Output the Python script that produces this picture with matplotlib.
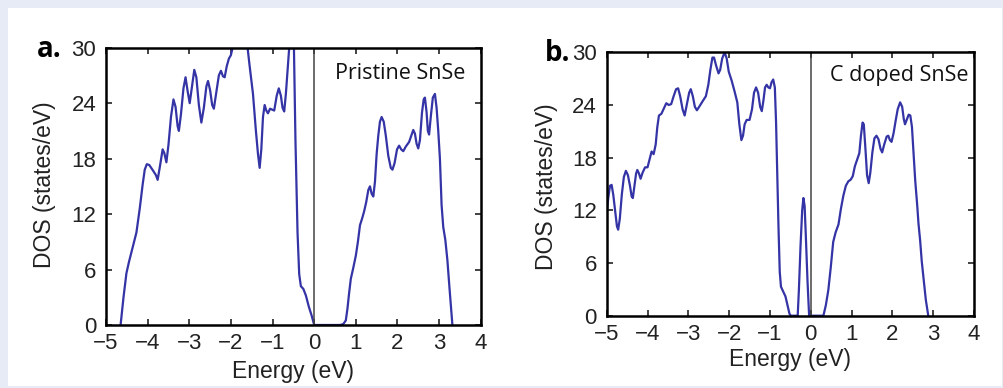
import matplotlib
matplotlib.use("Agg")
import matplotlib.pyplot as plt
from matplotlib.patches import Rectangle

# DOS of pristine SnSe (panel a)
energy_a = [-4.65, -4.58, -4.51, -4.45, -4.36, -4.27, -4.19, -4.12, -4.07, -4.02,
            -3.96, -3.87, -3.80, -3.76, -3.70, -3.64, -3.60, -3.55, -3.50, -3.44,
            -3.38, -3.33, -3.28, -3.25, -3.20, -3.14, -3.09, -3.04, -2.99, -2.94,
            -2.88, -2.83, -2.77, -2.71, -2.65, -2.59, -2.55, -2.50, -2.45, -2.41,
            -2.35, -2.29, -2.24, -2.19, -2.15, -2.10, -2.05, -2.00, -1.95, -1.85,
            -1.75, -1.65, -1.55, -1.47, -1.40, -1.35, -1.31, -1.27, -1.23, -1.19,
            -1.15, -1.11, -1.06, -1.01, -0.96, -0.90, -0.85, -0.80, -0.76, -0.72,
            -0.68, -0.64, -0.60, -0.55, -0.52, -0.49, -0.45, -0.40, -0.36, -0.32,
            -0.26, -0.20, -0.13, -0.06, 0.00,
            0.62, 0.70, 0.76, 0.80, 0.84, 0.88, 0.94, 1.00, 1.05, 1.10,
            1.15, 1.20, 1.25, 1.30, 1.34, 1.38, 1.42, 1.46, 1.50, 1.54,
            1.58, 1.62, 1.67, 1.72, 1.78, 1.84, 1.88, 1.93, 1.99, 2.04,
            2.09, 2.14, 2.20, 2.28, 2.34, 2.38, 2.42, 2.46, 2.50, 2.54,
            2.59, 2.63, 2.66, 2.70, 2.73, 2.76, 2.80, 2.85, 2.90, 2.94,
            2.98, 3.02, 3.06, 3.10, 3.15, 3.20, 3.25, 3.32]
dos_a = [0.0, 3.0, 5.6, 6.8, 8.4, 10.0, 12.6, 15.2, 16.8, 17.4,
         17.3, 16.7, 16.2, 15.7, 17.3, 19.0, 18.6, 17.6, 19.5, 22.5,
         24.4, 23.6, 21.5, 21.0, 22.8, 25.6, 26.8, 25.3, 24.0, 25.6,
         27.6, 26.8, 23.8, 21.9, 23.5, 25.8, 26.4, 25.4, 23.8, 23.4,
         25.2, 27.0, 27.5, 26.9, 26.8, 28.0, 28.8, 29.2, 30.2, 34.0,
         35.0, 32.0, 28.0, 25.0, 21.0, 18.5, 17.0, 19.0, 22.5, 23.8,
         23.2, 22.9, 23.4, 23.3, 23.2, 24.8, 25.6, 24.8, 23.5, 23.1,
         25.0, 27.5, 30.0, 35.0, 36.0, 31.0, 20.0, 10.0, 5.5, 4.2,
         3.9, 3.2, 2.0, 1.0, 0.0,
         0.0, 0.1, 0.5, 1.8, 3.5, 5.0, 6.2, 7.5, 9.0, 10.8,
         11.5, 12.3, 13.3, 14.6, 15.0, 14.2, 13.9, 15.5, 18.5, 20.5,
         22.0, 22.5, 22.0, 20.5, 18.3, 17.0, 16.8, 17.5, 19.0, 19.4,
         19.0, 18.8, 19.3, 19.8, 20.6, 21.1, 20.7, 19.6, 19.1, 20.0,
         23.0, 24.4, 24.6, 23.0, 21.0, 20.6, 22.5, 24.6, 25.0, 23.5,
         21.0, 18.0, 13.0, 10.6, 9.2, 7.0, 4.0, 0.0]

# DOS of C doped SnSe (panel b)
energy_b = [-5.00, -4.96, -4.92, -4.88, -4.84, -4.79, -4.75, -4.72, -4.68, -4.63,
            -4.58, -4.53, -4.48, -4.43, -4.39, -4.36, -4.32, -4.28, -4.25, -4.21,
            -4.17, -4.12, -4.06, -4.00, -3.95, -3.90, -3.85, -3.80, -3.76, -3.72,
            -3.66, -3.60, -3.54, -3.48, -3.42, -3.36, -3.30, -3.25, -3.20, -3.14,
            -3.09, -3.04, -2.98, -2.94, -2.89, -2.84, -2.79, -2.72, -2.64, -2.57,
            -2.51, -2.46, -2.41, -2.37, -2.32, -2.26, -2.22, -2.17, -2.11, -2.06,
            -2.01, -1.94, -1.87, -1.80, -1.75, -1.70, -1.66, -1.62, -1.57, -1.50,
            -1.44, -1.39, -1.34, -1.29, -1.24, -1.20, -1.16, -1.12, -1.08, -1.04,
            -1.00, -0.96, -0.92, -0.88, -0.85, -0.82, -0.79, -0.76, -0.73, -0.68,
            -0.62, -0.57, -0.52, -0.49, -0.32, -0.29, -0.25, -0.21, -0.18, -0.15,
            -0.12, -0.08, -0.04,
            0.31, 0.37, 0.43, 0.49, 0.55, 0.61, 0.68, 0.74, 0.80, 0.86,
            0.92, 0.98, 1.03, 1.08, 1.14, 1.19, 1.23, 1.27, 1.30, 1.34,
            1.38, 1.42, 1.46, 1.51, 1.56, 1.61, 1.66, 1.71, 1.75, 1.80,
            1.86, 1.90, 1.94, 1.98, 2.03, 2.08, 2.13, 2.19, 2.24, 2.28,
            2.31, 2.35, 2.40, 2.44, 2.48, 2.52, 2.56, 2.61, 2.64, 2.68,
            2.72, 2.76, 2.82, 2.88]
dos_b = [11.7, 13.5, 14.8, 14.9, 13.8, 11.8, 10.2, 9.8, 11.0, 13.8,
         15.8, 16.5, 16.0, 14.8, 13.6, 13.4, 14.8, 16.2, 16.6, 16.2,
         15.6, 16.3, 16.9, 16.9, 17.8, 18.7, 18.4, 19.5, 21.5, 22.8,
         23.0, 23.6, 24.2, 24.0, 24.1, 25.0, 25.8, 25.9, 25.0, 23.5,
         22.8, 24.0, 25.4, 25.8, 25.0, 23.8, 23.4, 23.9, 24.5, 25.0,
         26.3, 28.0, 29.4, 29.4, 28.5, 27.6, 28.0, 29.3, 30.0, 29.3,
         27.8, 26.8, 25.6, 24.3, 21.8, 20.0, 20.5, 21.8, 22.3, 22.3,
         23.5, 25.4, 26.0, 25.4, 23.8, 23.3, 24.5, 26.0, 26.3, 26.0,
         25.9, 26.6, 26.9, 26.0, 22.0, 16.0, 10.0, 5.0, 3.3, 2.8,
         2.2, 1.2, 0.2, 0.0, 0.0, 3.0, 8.0, 12.0, 13.4, 12.5,
         9.0, 4.0, 0.0,
         0.0, 1.2, 2.9, 5.5, 8.4, 9.5, 10.4, 12.2, 13.7, 14.8,
         15.3, 15.5, 15.9, 17.0, 17.8, 18.5, 20.5, 22.0, 21.8, 19.0,
         16.0, 15.1, 16.3, 18.6, 20.2, 20.5, 20.1, 19.0, 18.6, 19.5,
         20.4, 20.5, 20.0, 19.8, 20.8, 22.2, 23.5, 24.3, 23.8, 22.4,
         21.8, 22.3, 22.9, 22.8, 21.5, 18.5, 15.4, 12.5, 10.5, 8.6,
         6.2, 4.4, 1.8, 0.0]

x_ticks = [-5, -4, -3, -2, -1, 0, 1, 2, 3, 4]
y_ticks = [0, 6, 12, 18, 24, 30]

plt.rcParams['font.family'] = ['Liberation Sans', 'DejaVu Sans']

fig = plt.figure(figsize=(10.04, 3.88), dpi=100, facecolor="#e6ebf6")
fig.patches.append(Rectangle((8 / 1004, 2 / 388), 994 / 1004, 378 / 388,
                             transform=fig.transFigure, facecolor="white",
                             edgecolor="none", zorder=-10))

ax1 = fig.add_axes([0.1056, 0.1624, 0.3732, 0.7147])
ax2 = fig.add_axes([0.6043, 0.1863, 0.3658, 0.6789])

panels = [(ax1, energy_a, dos_a, "Pristine SnSe", 0.50, 27.2),
          (ax2, energy_b, dos_b, "C doped SnSe", 0.47, 27.4)]

for ax, e, d, name, tx, ty in panels:
    ax.plot(e, d, color="#3434a6", linewidth=1.6, solid_joinstyle="round")
    ax.axvline(0, color="#444444", linewidth=1.1)
    ax.set_xlim(-5, 4)
    ax.set_ylim(0, 30)
    ax.set_xticks(x_ticks)
    ax.set_yticks(y_ticks)
    ax.tick_params(direction="in", length=4.5, width=1.2, top=True, right=True,
                   labelsize=16, colors="#222222")
    ax.tick_params(axis="x", pad=6)
    ax.tick_params(axis="y", pad=7)
    for s in ax.spines.values():
        s.set_linewidth(1.8)
    ax.set_xlabel("Energy (eV)", fontsize=16.5, color="#222222")
    ax.set_ylabel("DOS (states/eV)", fontsize=16.5, color="#222222")
    ax.text(tx, ty, name, fontsize=15.5, family="Open Sans", ha="left", va="center",
            color="#111111")

ax1.xaxis.set_label_coords(0.5, -0.126)
ax1.yaxis.set_label_coords(-0.133, 0.505)
ax2.xaxis.set_label_coords(0.499, -0.124)
ax2.yaxis.set_label_coords(-0.133, 0.49)

fig.text(0.0369, 0.853, "a.", fontsize=20, family="Open Sans", fontweight="bold",
         va="baseline", ha="left")
fig.text(0.543, 0.843, "b.", fontsize=20, family="Open Sans", fontweight="bold",
         va="baseline", ha="left")

plt.savefig("out.png", dpi=100, facecolor=fig.get_facecolor())
